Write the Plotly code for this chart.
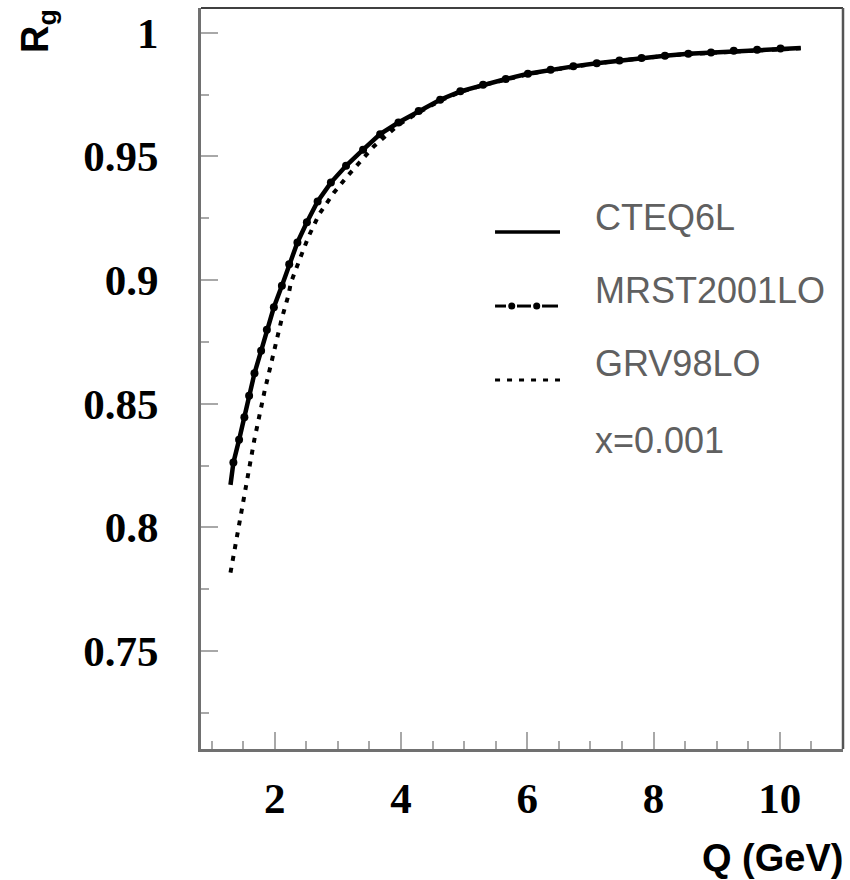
import plotly.graph_objects as go

# ---------------- data ----------------
q_cteq = [1.30, 1.346, 1.436, 1.52, 1.595, 1.68, 1.785, 1.876, 1.987, 2.114, 2.23, 2.36,
          2.51, 2.68, 2.89, 3.13, 3.40, 3.67, 3.96, 4.28, 4.62, 4.94, 5.30, 5.66, 6.01,
          6.37, 6.73, 7.10, 7.46, 7.81, 8.18, 8.55, 8.91, 9.27, 9.64, 10.01, 10.33]
r_cteq = [0.8172, 0.8262, 0.8354, 0.8445, 0.8532, 0.8623, 0.8714, 0.8799, 0.8890, 0.8977,
          0.9064, 0.9152, 0.9234, 0.9318, 0.9394, 0.9462, 0.9527, 0.9590, 0.9637, 0.9684,
          0.9729, 0.9763, 0.9790, 0.9813, 0.9834, 0.9850, 0.9864, 0.9877, 0.9888, 0.9898,
          0.9907, 0.9915, 0.9920, 0.9927, 0.9931, 0.9936, 0.9938]

q_mrst = [1.346, 1.436, 1.52, 1.595, 1.68, 1.785, 1.876, 1.987, 2.114, 2.23, 2.36,
          2.51, 2.68, 2.89, 3.13, 3.40, 3.67, 3.96, 4.28, 4.62, 4.94, 5.30, 5.66, 6.01,
          6.37, 6.73, 7.10, 7.46, 7.81, 8.18, 8.55, 8.91, 9.27, 9.64, 10.01]
r_mrst = [0.8262, 0.8354, 0.8445, 0.8532, 0.8623, 0.8714, 0.8799, 0.8890, 0.8977,
          0.9064, 0.9152, 0.9234, 0.9318, 0.9394, 0.9462, 0.9527, 0.9590, 0.9637, 0.9684,
          0.9729, 0.9763, 0.9790, 0.9813, 0.9834, 0.9850, 0.9864, 0.9877, 0.9888, 0.9898,
          0.9907, 0.9915, 0.9920, 0.9927, 0.9931, 0.9936]

q_grv = [1.30, 1.531, 1.679, 1.838, 1.980, 2.114, 2.219, 2.257, 2.393, 2.536, 2.706, 2.933,
         3.171, 3.436, 3.568, 3.96, 4.28, 4.62, 4.94, 5.30, 5.66, 6.01, 6.37, 6.73, 7.10,
         7.46, 7.81, 8.18, 8.55, 8.91, 9.27, 9.64, 10.01, 10.33]
r_grv = [0.7817, 0.8158, 0.8356, 0.8549, 0.8704, 0.8846, 0.8940, 0.8990, 0.9082, 0.9176,
         0.9267, 0.9352, 0.9426, 0.9502, 0.9540, 0.9628, 0.9678, 0.9725, 0.9760, 0.9788,
         0.9811, 0.9832, 0.9849, 0.9863, 0.9876, 0.9887, 0.9897, 0.9906, 0.9914, 0.9919,
         0.9926, 0.9930, 0.9935, 0.9937]

x_tickvals = [2, 4, 6, 8, 10]
x_ticktext = ["2", "4", "6", "8", "10"]
y_tickvals = [0.75, 0.8, 0.85, 0.9, 0.95, 1.0]
y_ticktext = ["0.75", "0.8", "0.85", "0.9", "0.95", "1"]

legend_names = ["CTEQ6L", "MRST2001LO", "GRV98LO"]
note_text = "x=0.001"
x_title = "Q (GeV)"
y_title = "R<sub>g</sub>"

# ---------------- figure ----------------
fig = go.Figure()
fig.add_trace(go.Scatter(x=q_grv, y=r_grv, mode="lines", name=legend_names[2],
                         line=dict(color="black", width=4, dash="5px,7px")))
fig.add_trace(go.Scatter(x=q_cteq, y=r_cteq, mode="lines", name=legend_names[0],
                         line=dict(color="black", width=4.5)))
fig.add_trace(go.Scatter(x=q_mrst, y=r_mrst, mode="markers", name=legend_names[1],
                         marker=dict(color="black", size=8, symbol="circle")))

tick_font = dict(family="Liberation Serif", size=43, color="black", weight="bold")
fig.update_xaxes(range=[0.833, 11.0], showgrid=False, zeroline=False,
                 showline=True, linecolor="#707070", linewidth=3,
                 ticks="inside", ticklen=17, tickwidth=1.5, tickcolor="#a8a8a8",
                 tickvals=x_tickvals, ticktext=x_ticktext, tickfont=tick_font,
                 ticklabelstandoff=9,
                 minor=dict(dtick=0.5, tick0=0, ticks="inside", ticklen=8,
                            tickwidth=1.5, tickcolor="#a8a8a8"))
fig.update_yaxes(range=[0.7104, 1.01], showgrid=False, zeroline=False,
                 showline=True, linecolor="#707070", linewidth=3,
                 ticks="inside", ticklen=17, tickwidth=1.5, tickcolor="#a8a8a8",
                 tickvals=y_tickvals, ticktext=y_ticktext, tickfont=tick_font,
                 ticklabelstandoff=31,
                 minor=dict(dtick=0.025, tick0=0, ticks="inside", ticklen=8,
                            tickwidth=1.5, tickcolor="#a8a8a8"))

# frame top / right
fig.add_shape(type="line", xref="paper", yref="paper", x0=0, x1=1, y0=1, y1=1,
              line=dict(color="#404040", width=2))
fig.add_shape(type="line", xref="paper", yref="paper", x0=1, x1=1, y0=0, y1=1,
              line=dict(color="#555555", width=2.5))

# custom legend
leg_font = dict(family="Liberation Sans", size=36, color="#606060")
lx0, lx1, tx = 0.458, 0.5592, 0.6106
fig.add_shape(type="line", xref="paper", yref="paper", x0=lx0, x1=lx1, y0=0.6977, y1=0.6977,
              line=dict(color="black", width=3.5))
for a, b in [(0.458, 0.4751), (0.4922, 0.514), (0.5312, 0.5561)]:
    fig.add_shape(type="line", xref="paper", yref="paper", x0=a, x1=b, y0=0.5978, y1=0.5978,
                  line=dict(color="black", width=3))
for cx in [0.484, 0.5229]:
    fig.add_shape(type="circle", xref="paper", yref="paper",
                  x0=cx - 0.0055, x1=cx + 0.0055, y0=0.5978 - 0.0048, y1=0.5978 + 0.0048,
                  fillcolor="black", line=dict(color="black", width=0))
fig.add_shape(type="line", xref="paper", yref="paper", x0=lx0, x1=lx1, y0=0.498, y1=0.498,
              line=dict(color="black", width=3, dash="5px,7px"))
for name, yy in zip(legend_names + [note_text], [0.7166, 0.6194, 0.5209, 0.417]):
    fig.add_annotation(text=name, xref="paper", yref="paper", x=tx, y=yy,
                       xanchor="left", yanchor="middle", showarrow=False, font=leg_font)

# axis titles
title_font = dict(family="Liberation Sans", size=38, color="black", weight="bold")
fig.add_annotation(text=x_title, xref="paper", yref="paper", x=1.0031, y=-0.1471,
                   xanchor="right", yanchor="middle", showarrow=False, font=title_font)
fig.add_annotation(text=y_title, xref="paper", yref="paper", x=-0.254, y=0.969,
                   xanchor="center", yanchor="middle", textangle=-90, showarrow=False,
                   font=title_font)

fig.update_layout(width=850, height=880, margin=dict(l=201, r=7, t=8, b=131),
                  plot_bgcolor="white", paper_bgcolor="white", showlegend=False)

fig.write_html("out.html")
